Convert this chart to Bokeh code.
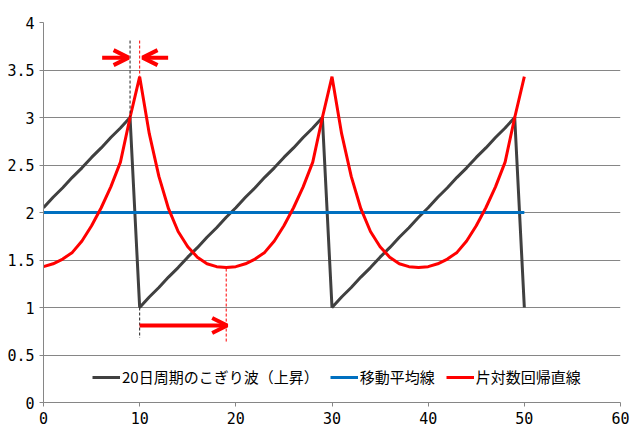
from bokeh.plotting import figure
from bokeh.models import (Arrow, OpenHead, Legend, LegendItem, FixedTicker,
                          CustomJSTickFormatter, Range1d, ColumnDataSource)
from bokeh.embed import file_html
from bokeh.resources import INLINE

# ---- data ----
x = list(range(51))
sawtooth = [2.05, 2.16, 2.26, 2.37, 2.47, 2.58, 2.68, 2.79, 2.89, 3.00,
            1.00, 1.11, 1.21, 1.32, 1.42, 1.53, 1.63, 1.74, 1.84, 1.95,
            2.05, 2.16, 2.26, 2.37, 2.47, 2.58, 2.68, 2.79, 2.89, 3.00,
            1.00, 1.11, 1.21, 1.32, 1.42, 1.53, 1.63, 1.74, 1.84, 1.95,
            2.05, 2.16, 2.26, 2.37, 2.47, 2.58, 2.68, 2.79, 2.89, 3.00,
            1.00]
moving_avg = [2.0] * 51
semilog = [1.43, 1.46, 1.51, 1.58, 1.70, 1.86, 2.05, 2.27, 2.53, 3.00,
           3.43, 2.83, 2.38, 2.04, 1.80, 1.64, 1.53, 1.46, 1.43, 1.42,
           1.43, 1.46, 1.51, 1.58, 1.70, 1.86, 2.05, 2.27, 2.53, 3.00,
           3.43, 2.83, 2.38, 2.04, 1.80, 1.64, 1.53, 1.46, 1.43, 1.42,
           1.43, 1.46, 1.51, 1.58, 1.70, 1.86, 2.05, 2.27, 2.53, 3.00,
           3.43]
labels = ["20日周期のこぎり波（上昇）", "移動平均線", "片対数回帰直線"]
x_ticks = [0, 10, 20, 30, 40, 50, 60]
y_ticks = [0, 0.5, 1, 1.5, 2, 2.5, 3, 3.5, 4]

# annotation marks (dashed guides and arrows)
dash_gray = dict(x0=[9, 10], y0=[3.81, 1.00], x1=[9, 10], y1=[3.00, 0.68])
dash_red = dict(x0=[10, 19], y0=[3.81, 1.41], x1=[10, 19], y1=[3.43, 0.63])
arrows = [(6.1, 3.63, 8.85, 3.63), (12.96, 3.63, 10.3, 3.63), (10.0, 0.81, 19.1, 0.81)]

p = figure(width=641, height=448, output_backend="svg", toolbar_location=None,
           x_range=Range1d(0, 60), y_range=Range1d(0, 4),
           min_border_left=43, min_border_right=21, min_border_top=22,
           min_border_bottom=46)
p.outline_line_color = None
p.background_fill_color = "white"
p.border_fill_color = "white"

p.xgrid.grid_line_color = None
p.ygrid.grid_line_color = "#868686"
p.ygrid.grid_line_width = 1

for ax in (p.xaxis[0], p.yaxis[0]):
    ax.axis_line_color = "#868686"
    ax.major_tick_line_color = "#868686"
    ax.major_tick_out = 4
    ax.major_tick_in = 0
    ax.minor_tick_line_color = None
    ax.major_label_text_font = "DejaVu Sans Mono"
    ax.major_label_text_font_size = "15px"
    ax.major_label_text_color = "black"
    ax.formatter = CustomJSTickFormatter(code="return tick.toString();")
p.xaxis[0].ticker = FixedTicker(ticks=x_ticks)
p.yaxis[0].ticker = FixedTicker(ticks=y_ticks)

r1 = p.line(x, sawtooth, line_color="#404040", line_width=3)
r2 = p.line(x, moving_avg, line_color="#0070C0", line_width=3)
r3 = p.line(x, semilog, line_color="#FF0000", line_width=3)

p.segment(source=ColumnDataSource(dash_gray), x0="x0", y0="y0", x1="x1", y1="y1",
          line_color="#202020", line_width=1, line_dash="3 2")
p.segment(source=ColumnDataSource(dash_red), x0="x0", y0="y0", x1="x1", y1="y1",
          line_color="#FF0000", line_width=1, line_dash="3 2")

for (ax0, ay0, ax1, ay1) in arrows:
    p.add_layout(Arrow(x_start=ax0, y_start=ay0, x_end=ax1, y_end=ay1,
                       line_color="#FF0000", line_width=4,
                       end=OpenHead(line_color="#FF0000", line_width=4, size=15)))

legend = Legend(items=[LegendItem(label=labels[0], renderers=[r1]),
                       LegendItem(label=labels[1], renderers=[r2]),
                       LegendItem(label=labels[2], renderers=[r3])],
                orientation="horizontal", location=(49, 15),
                padding=0, margin=0, spacing=11, label_standoff=2,
                glyph_width=28, glyph_height=16, label_height=16,
                background_fill_alpha=0, border_line_color=None,
                label_text_font="Noto Sans CJK JP", label_text_font_size="15px",
                label_text_color="black")
p.add_layout(legend, "center")

open("out.html", "w").write(file_html(p, INLINE))
